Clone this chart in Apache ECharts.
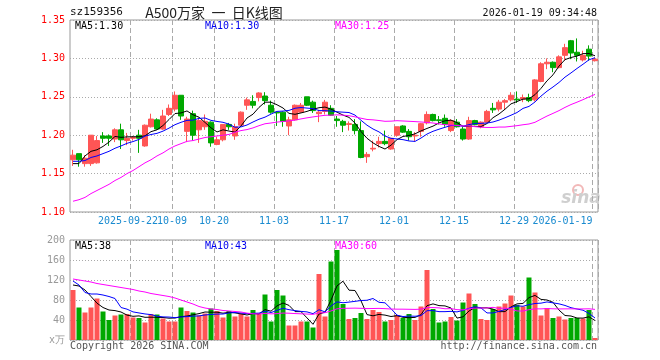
<!DOCTYPE html>
<html><head><meta charset="utf-8">
<script src="https://cdn.jsdelivr.net/npm/echarts@6/dist/echarts.min.js"></script>
<style>html,body{margin:0;padding:0;background:#fff}#c{width:660px;height:360px}</style>
</head><body><div id="c"></div>
<script>
const dates = [
'2025-09-08','2025-09-09','2025-09-10','2025-09-11','2025-09-12','2025-09-15','2025-09-16','2025-09-17','2025-09-18','2025-09-19',
'2025-09-22','2025-09-23','2025-09-24','2025-09-25','2025-09-26','2025-09-29','2025-09-30',
'2025-10-09','2025-10-10','2025-10-13','2025-10-14','2025-10-15','2025-10-16','2025-10-17','2025-10-20','2025-10-21','2025-10-22','2025-10-23','2025-10-24','2025-10-27','2025-10-28','2025-10-29','2025-10-30','2025-10-31',
'2025-11-03','2025-11-04','2025-11-05','2025-11-06','2025-11-07','2025-11-10','2025-11-11','2025-11-12','2025-11-13','2025-11-14','2025-11-17','2025-11-18','2025-11-19','2025-11-20','2025-11-21','2025-11-24','2025-11-25','2025-11-26','2025-11-27','2025-11-28',
'2025-12-01','2025-12-02','2025-12-03','2025-12-04','2025-12-05','2025-12-08','2025-12-09','2025-12-10','2025-12-11','2025-12-12','2025-12-15','2025-12-16','2025-12-17','2025-12-18','2025-12-19','2025-12-22','2025-12-23','2025-12-24','2025-12-25','2025-12-26','2025-12-29','2025-12-30','2025-12-31',
'2026-01-05','2026-01-06','2026-01-07','2026-01-08','2026-01-09','2026-01-12','2026-01-13','2026-01-14','2026-01-15','2026-01-16','2026-01-19'];

const opens  = [1.168,1.176,1.163,1.163,1.164,1.199,1.199,1.195,1.207,1.193, 1.196,1.200,1.186,1.211,1.220,1.208,1.227,1.234,1.252,1.205, 1.228,1.207,1.211,1.217,1.188,1.194,1.214,1.199,1.213,1.239, 1.244,1.249,1.251,1.239,1.230,1.230,1.212,1.220,1.230,1.250, 1.243,1.228,1.231,1.235,1.221,1.218,1.214,1.214,1.206,1.172, 1.182,1.189,1.192,1.182,1.200,1.212,1.205,1.199,1.205,1.216, 1.227,1.220,1.222,1.206,1.217,1.208,1.195,1.219,1.211,1.217, 1.235,1.234,1.243,1.246,1.247,1.247,1.249,1.246,1.270,1.293, 1.295,1.288,1.304,1.323,1.308,1.298,1.312,1.297];
const closes = [1.174,1.168,1.170,1.200,1.193,1.196,1.196,1.207,1.194,1.196, 1.197,1.196,1.213,1.221,1.208,1.225,1.235,1.252,1.225,1.221, 1.200,1.219,1.218,1.190,1.194,1.214,1.211,1.211,1.230,1.246, 1.239,1.255,1.245,1.230,1.229,1.218,1.220,1.239,1.239,1.239, 1.232,1.230,1.243,1.226,1.219,1.213,1.215,1.206,1.171,1.175, 1.183,1.192,1.189,1.196,1.211,1.204,1.198,1.200,1.215,1.227, 1.219,1.219,1.214,1.219,1.211,1.195,1.219,1.214,1.217,1.231, 1.233,1.243,1.245,1.252,1.246,1.249,1.245,1.272,1.293,1.295, 1.288,1.302,1.314,1.307,1.304,1.304,1.303,1.299];
const lows   = [1.160,1.159,1.159,1.160,1.163,1.190,1.186,1.191,1.182,1.187, 1.193,1.177,1.185,1.210,1.207,1.207,1.225,1.231,1.220,1.191, 1.193,1.190,1.207,1.185,1.187,1.192,1.207,1.194,1.211,1.233, 1.235,1.244,1.240,1.228,1.212,1.211,1.200,1.219,1.229,1.238, 1.229,1.217,1.227,1.225,1.211,1.204,1.206,1.201,1.170,1.164, 1.179,1.184,1.187,1.181,1.198,1.203,1.193,1.192,1.198,1.214, 1.218,1.214,1.211,1.204,1.210,1.193,1.194,1.213,1.209,1.216, 1.229,1.231,1.233,1.244,1.242,1.243,1.243,1.244,1.269,1.286, 1.282,1.287,1.297,1.299,1.296,1.296,1.297,1.296];
const highs  = [1.181,1.176,1.174,1.200,1.199,1.204,1.201,1.209,1.215,1.203, 1.199,1.207,1.214,1.228,1.222,1.233,1.240,1.257,1.252,1.224, 1.232,1.223,1.227,1.218,1.198,1.214,1.216,1.215,1.231,1.249, 1.252,1.256,1.256,1.245,1.231,1.231,1.224,1.240,1.242,1.250, 1.245,1.233,1.246,1.239,1.225,1.220,1.218,1.221,1.218,1.178, 1.193,1.198,1.206,1.196,1.211,1.213,1.208,1.204,1.216,1.231, 1.228,1.225,1.227,1.221,1.221,1.211,1.224,1.220,1.218,1.233, 1.242,1.246,1.247,1.256,1.257,1.253,1.254,1.273,1.295,1.300, 1.296,1.304,1.319,1.324,1.326,1.310,1.317,1.301];
const volumes = [100,65,55,65,83,57,40,49,51,52, 45,44,35,52,51,43,37,37,65,58, 55,49,53,63,58,45,58,47,53,47, 60,53,91,37,100,89,29,29,37,37, 25,132,47,157,180,72,42,44,54,42, 60,56,37,40,50,44,52,40,67,140, 62,35,37,46,39,75,93,72,42,40, 62,67,73,89,70,67,125,95,49,64, 44,47,41,44,44,43,60,4];

// moving-average values read off the picture where earlier history is not shown
const ma5Lead  = [1.163,1.163,1.173,1.179];
const ma10Lead = [1.166,1.166,1.167,1.171,1.173,1.176,1.179,1.183,1.186];
const ma30Lead = [1.114,1.116,1.119,1.124,1.128,1.132,1.136,1.141,1.145,1.150,1.154,1.159,1.164,1.168,1.173,1.177,1.182,1.186,1.189,1.192,1.193,1.195,1.197,1.198,1.199,1.200,1.201,1.204,1.206];
const vma5Lead  = [110,108,100,87];
const vma10Lead = [118,110,95,92,92,90,87,83,65];
const vma30Lead = [122,120,118,116,113,111,109,107,105,103,101,98,96,93,91,89,87,84,80,76,72,67,64,62,61,59,58,57,56];

const labelDates = {'2025-09-22':'2025-09-22','2025-10-09':'10-09','2025-10-20':'10-20','2025-11-03':'11-03','2025-11-17':'11-17','2025-12-01':'12-01','2025-12-15':'12-15','2025-12-29':'12-29','2026-01-19':'2026-01-19'};
const firstLabel = '2025-09-22';
const priceTicks = {min:1.10,max:1.35,step:0.05};
const volTicks = {min:0,max:200,step:40};

function ma(arr, n, lead){ return arr.map((_,i)=>{ if(i<n-1) return lead[i]; let s=0; for(let k=i-n+1;k<=i;k++) s+=arr[k]; return +(s/n).toFixed(4); }); }

const UP='#ff5555', DOWN='#00a800', MONO='DejaVu Sans Mono', XCOL='#1a8bd0';
const kData = dates.map((d,i)=>[opens[i],closes[i],lows[i],highs[i]]);
const volData = volumes.map((v,i)=>({value:v,itemStyle:{color: closes[i]>=opens[i]?UP:DOWN}}));
const isLab = (idx,val)=> labelDates.hasOwnProperty(val);
const splitV = {show:true, interval:isLab, lineStyle:{color:'#aaa', type:[5,3], width:1}};
const rich = {n:{padding:[0,6,0,0],fontFamily:MONO,fontSize:10,color:XCOL},
              e:{padding:[0,65,0,0],fontFamily:MONO,fontSize:10,color:XCOL}};

const chart = echarts.init(document.getElementById('c'), null, {renderer:'canvas'});
chart.setOption({
  animation:false,
  backgroundColor:'#fff',
  grid:[
    {left:70, top:20, width:528, height:192, show:true, borderColor:'#999', borderWidth:1},
    {left:70, top:240, width:528, height:100, show:true, borderColor:'#999', borderWidth:1}
  ],
  xAxis:[
    {type:'category', gridIndex:0, data:dates, boundaryGap:true, position:'bottom',
     axisLine:{show:false}, axisTick:{show:false}, splitLine:splitV,
     axisLabel:{show:true, interval:(i,v)=>isLab(i,v)&&v!==firstLabel, margin:4, hideOverlap:false,
       formatter:(v)=> v==='2026-01-19' ? '{e|'+labelDates[v]+'}' : '{n|'+(labelDates[v]||'')+'}', rich:rich}},
    {type:'category', gridIndex:1, data:dates, boundaryGap:true,
     axisLine:{show:false}, axisTick:{show:false}, axisLabel:{show:false}, splitLine:splitV},
    {type:'category', gridIndex:0, data:dates, boundaryGap:true, position:'bottom', offset:0,
     axisLine:{show:false}, axisTick:{show:false}, splitLine:{show:false},
     axisLabel:{show:true, interval:(i,v)=>v===firstLabel, margin:4, hideOverlap:false,
       formatter:(v)=> '{n|'+labelDates[v]+'}', rich:{n:{padding:[0,10,0,0],fontFamily:MONO,fontSize:10,color:XCOL}}}}
  ],
  yAxis:[
    {type:'value', gridIndex:0, min:priceTicks.min, max:priceTicks.max, interval:priceTicks.step,
     axisLine:{show:false}, axisTick:{show:false},
     axisLabel:{color:'#ff0000', fontFamily:MONO, fontSize:10, margin:5, formatter:v=>v.toFixed(2)},
     splitLine:{show:true, lineStyle:{color:'#aaa', type:[1,2]}}},
    {type:'value', gridIndex:1, min:volTicks.min, max:volTicks.max, interval:volTicks.step,
     axisLine:{show:false}, axisTick:{show:false},
     axisLabel:{color:'#999', fontFamily:MONO, fontSize:10, margin:5, formatter:v=> v===0?'x万':String(v)},
     splitLine:{show:true, lineStyle:{color:'#aaa', type:[1,2]}}}
  ],
  series:[
    {type:'candlestick', xAxisIndex:0, yAxisIndex:0, data:kData, barWidth:5,
     itemStyle:{color:UP, color0:DOWN, borderColor:UP, borderColor0:DOWN, borderWidth:1}},
    {type:'line', xAxisIndex:0, yAxisIndex:0, data:ma(closes,5,ma5Lead), showSymbol:false, lineStyle:{color:'#000',width:1}},
    {type:'line', xAxisIndex:0, yAxisIndex:0, data:ma(closes,10,ma10Lead), showSymbol:false, lineStyle:{color:'#0000ff',width:1}},
    {type:'line', xAxisIndex:0, yAxisIndex:0, data:ma(closes,30,ma30Lead), showSymbol:false, lineStyle:{color:'#ff00ff',width:1}},
    {type:'bar', xAxisIndex:1, yAxisIndex:1, data:volData, barWidth:5},
    {type:'line', xAxisIndex:1, yAxisIndex:1, data:ma(volumes,5,vma5Lead), showSymbol:false, lineStyle:{color:'#000',width:1}},
    {type:'line', xAxisIndex:1, yAxisIndex:1, data:ma(volumes,10,vma10Lead), showSymbol:false, lineStyle:{color:'#0000ff',width:1}},
    {type:'line', xAxisIndex:1, yAxisIndex:1, data:ma(volumes,30,vma30Lead), showSymbol:false, lineStyle:{color:'#ff00ff',width:1}}
  ],
  graphic:[
    {type:'text', left:70, top:7, style:{text:'sz159356', font:'11px '+MONO, fill:'#111'}},
    {type:'text', x:214, y:13, style:{text:'A500万家  一  日K线图', font:'14px "Noto Sans CJK SC"', fill:'#222', align:'center', verticalAlign:'middle'}},
    {type:'text', x:597, y:13, style:{text:'2026-01-19 09:34:48', font:'10px '+MONO, fill:'#111', align:'right', verticalAlign:'middle'}},
    {type:'text', x:75, y:26, style:{text:'MA5:1.30', font:'10px '+MONO, fill:'#000', verticalAlign:'middle'}},
    {type:'text', x:205, y:26, style:{text:'MA10:1.30', font:'10px '+MONO, fill:'#0000ee', verticalAlign:'middle'}},
    {type:'text', x:335, y:26, style:{text:'MA30:1.25', font:'10px '+MONO, fill:'#ff00ff', verticalAlign:'middle'}},
    {type:'text', x:75, y:246.5, style:{text:'MA5:38', font:'10px '+MONO, fill:'#000', verticalAlign:'middle'}},
    {type:'text', x:205, y:246.5, style:{text:'MA10:43', font:'10px '+MONO, fill:'#0000ee', verticalAlign:'middle'}},
    {type:'text', x:335, y:246.5, style:{text:'MA30:60', font:'10px '+MONO, fill:'#ff00ff', verticalAlign:'middle'}},
    {type:'text', x:70, y:346, style:{text:'Copyright 2026 SINA.COM', font:'10px '+MONO, fill:'#555', verticalAlign:'middle'}},
    {type:'text', x:597, y:346, style:{text:'http://finance.sina.com.cn', font:'10px '+MONO, fill:'#555', align:'right', verticalAlign:'middle'}},
    {type:'circle', shape:{cx:578, cy:190, r:5}, style:{fill:'none', stroke:'#f2b8b8', lineWidth:2}, z:0},
    {type:'text', x:581, y:199, style:{text:'sina', font:'italic bold 17px "DejaVu Sans"', fill:'#cfcfcf', align:'center', verticalAlign:'middle'}, z:0}
  ]
});
</script></body></html>
